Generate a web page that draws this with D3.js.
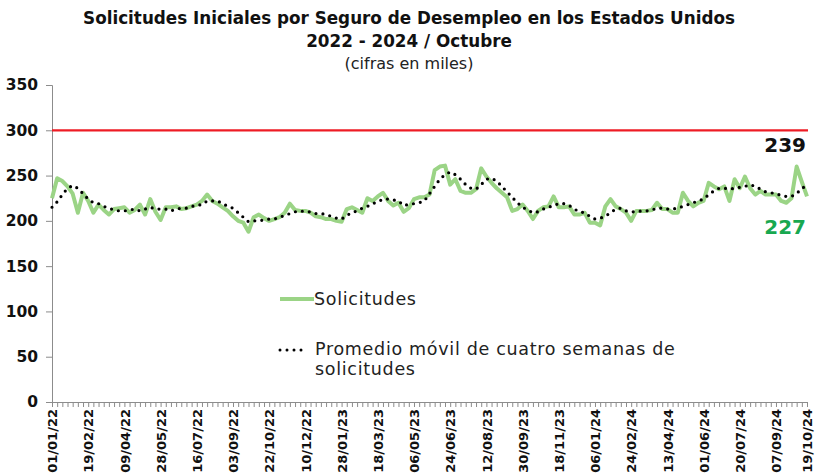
<!DOCTYPE html>
<html>
<head>
<meta charset="utf-8">
<script src="https://cdn.jsdelivr.net/npm/d3@7"></script>
<style>
  body { margin: 0; background: #fff; }
  svg text { font-family: "DejaVu Sans", sans-serif; }
</style>
</head>
<body>
<div id="chart"></div>
<script>
// Weekly initial claims (thousands), weeks 01/01/22 .. 19/10/24
var solicitudes = [
  225,247,244,238,230,209,231,222,209,218,212,207,213,214,215,209,212,218,207,224,
  210,201,215,215,216,213,214,216,218,222,229,222,219,215,211,205,200,198,188,204,
  207,203,200,202,204,209,219,212,211,211,209,205,204,202,202,200,199,213,215,212,
  209,225,222,227,231,222,217,220,210,214,224,226,226,229,256,260,261,240,246,233,
  231,231,235,258,249,242,236,231,226,211,213,218,211,202,211,215,216,227,215,215,
  216,207,207,209,198,198,195,216,224,216,213,209,200,211,211,211,212,220,213,213,
  209,209,231,222,216,220,222,242,238,235,238,222,246,236,249,236,229,233,229,229,
  229,222,220,225,260,243,227
];

// four-week moving average as drawn (dotted line)
var promedio = [
  215,221,229,236,239,236,230,224,220,219,216,214,212,211,211,212,213,211,213,215,
  213,213,213,211,213,214,214,216,217,218,222,222,222,219,216,214,209,204,199,200,
  200,201,202,202,204,206,208,210,211,210,210,208,208,207,205,203,202,206,209,211,
  214,216,219,221,224,224,223,222,217,218,219,220,222,230,238,246,251,254,251,246,
  240,236,235,240,246,247,244,238,232,226,220,215,212,209,210,213,215,217,219,219,
  217,213,210,209,205,202,203,205,209,213,214,211,210,210,211,211,212,214,214,213,
  213,214,216,218,220,222,224,229,233,236,236,235,236,237,238,240,238,235,232,231,
  230,228,227,227,230,236,239
];

var tickIndex = [0,7,14,21,28,35,42,49,56,63,70,77,84,91,98,105,112,119,126,133,140,146];
var tickLabels = ["01/01/22","19/02/22","09/04/22","28/05/22","16/07/22","03/09/22","22/10/22",
  "10/12/22","28/01/23","18/03/23","06/05/23","24/06/23","12/08/23","30/09/23","18/11/23",
  "06/01/24","24/02/24","13/04/24","01/06/24","20/07/24","07/09/24","19/10/24"];

var yTicks = [0,50,100,150,200,250,300,350];
var umbral = 300;

var W = 817, H = 476;
var margin = { left: 52, right: 10, top: 85, bottom: 74 };

var svg = d3.select("#chart").append("svg")
    .attr("width", W)
    .attr("height", H);

// Titles
var title = svg.append("g").attr("text-anchor", "middle");
title.append("text").attr("x", 409).attr("y", 24)
    .attr("font-size", "16.8px").attr("font-weight", "bold").attr("fill", "#111")
    .text("Solicitudes Iniciales por Seguro de Desempleo en los Estados Unidos");
title.append("text").attr("x", 409).attr("y", 47)
    .attr("font-size", "16.8px").attr("font-weight", "bold").attr("fill", "#111")
    .text("2022 - 2024 / Octubre");
title.append("text").attr("x", 409).attr("y", 69)
    .attr("font-size", "16px").attr("fill", "#222")
    .text("(cifras en miles)");

// Scales
var x = d3.scaleLinear()
    .domain([0, solicitudes.length - 1])
    .range([margin.left, W - margin.right]);
var y = d3.scaleLinear()
    .domain([0, 350])
    .range([H - margin.bottom, margin.top]);

// Y axis
var yAxis = svg.append("g")
    .attr("transform", "translate(" + margin.left + ",0)")
    .call(d3.axisLeft(y).tickValues(yTicks).tickSize(6).tickPadding(8));
yAxis.select(".domain").attr("stroke", "#8c8c8c");
yAxis.selectAll(".tick line").attr("stroke", "#8c8c8c");
yAxis.selectAll(".tick text")
    .attr("font-size", "15.5px").attr("font-weight", "bold").attr("fill", "#111");

// X axis: small tick for every week
var xMinor = svg.append("g")
    .attr("transform", "translate(0," + y(0) + ")")
    .call(d3.axisBottom(x).tickValues(d3.range(solicitudes.length)).tickSize(5).tickFormat(""));
xMinor.select(".domain").attr("stroke", "#8c8c8c");
xMinor.selectAll(".tick line").attr("stroke", "#8c8c8c");

// X axis labels
var xAxis = svg.append("g")
    .attr("transform", "translate(0," + y(0) + ")")
    .call(d3.axisBottom(x).tickValues(tickIndex).tickSize(0)
        .tickFormat(function(d, i) { return tickLabels[i]; }));
xAxis.select(".domain").remove();
xAxis.selectAll(".tick text")
    .attr("transform", "rotate(-90)")
    .attr("text-anchor", "end")
    .attr("x", -7)
    .attr("y", 0)
    .attr("dy", "0.36em")
    .attr("font-size", "13px").attr("font-weight", "bold").attr("fill", "#111");

// Threshold line
svg.append("line")
    .attr("x1", x(0)).attr("x2", x(solicitudes.length - 1) + 1)
    .attr("y1", y(umbral)).attr("y2", y(umbral))
    .attr("stroke", "#ee1c25").attr("stroke-width", 2.2);

// Series
var line = d3.line()
    .x(function(d, i) { return x(i); })
    .y(function(d) { return y(d); });

svg.append("path")
    .attr("d", line(solicitudes))
    .attr("fill", "none")
    .attr("stroke", "#9bd486")
    .attr("stroke-width", 4)
    .attr("stroke-linejoin", "round");

svg.append("path")
    .attr("d", line(promedio))
    .attr("fill", "none")
    .attr("stroke", "#000")
    .attr("stroke-width", 3.2)
    .attr("stroke-linecap", "round")
    .attr("stroke-dasharray", "0,7");

// End labels
var last = solicitudes.length - 1;
svg.append("text")
    .attr("x", 806).attr("y", 152)
    .attr("text-anchor", "end")
    .attr("font-size", "20px").attr("font-weight", "bold").attr("fill", "#111")
    .text(promedio[last]);
svg.append("text")
    .attr("x", 806).attr("y", 234)
    .attr("text-anchor", "end")
    .attr("font-size", "20px").attr("font-weight", "bold").attr("fill", "#18a850")
    .text(solicitudes[last]);

// Legend
var legend = svg.append("g")
    .attr("font-size", "17.5px").attr("fill", "#222").attr("letter-spacing", "0.7px");
legend.append("line")
    .attr("x1", 280).attr("x2", 314).attr("y1", 299).attr("y2", 299)
    .attr("stroke", "#9bd486").attr("stroke-width", 4);
legend.append("text")
    .attr("x", 314).attr("y", 299).attr("dy", "0.35em")
    .text("Solicitudes");
legend.append("line")
    .attr("x1", 280).attr("x2", 308).attr("y1", 350).attr("y2", 350)
    .attr("stroke", "#000").attr("stroke-width", 3)
    .attr("stroke-linecap", "round").attr("stroke-dasharray", "0,7");
legend.append("text")
    .attr("x", 315).attr("y", 349).attr("dy", "0.35em")
    .text("Promedio móvil de cuatro semanas de");
legend.append("text")
    .attr("x", 315).attr("y", 369).attr("dy", "0.35em")
    .text("solicitudes");
</script>
</body>
</html>
